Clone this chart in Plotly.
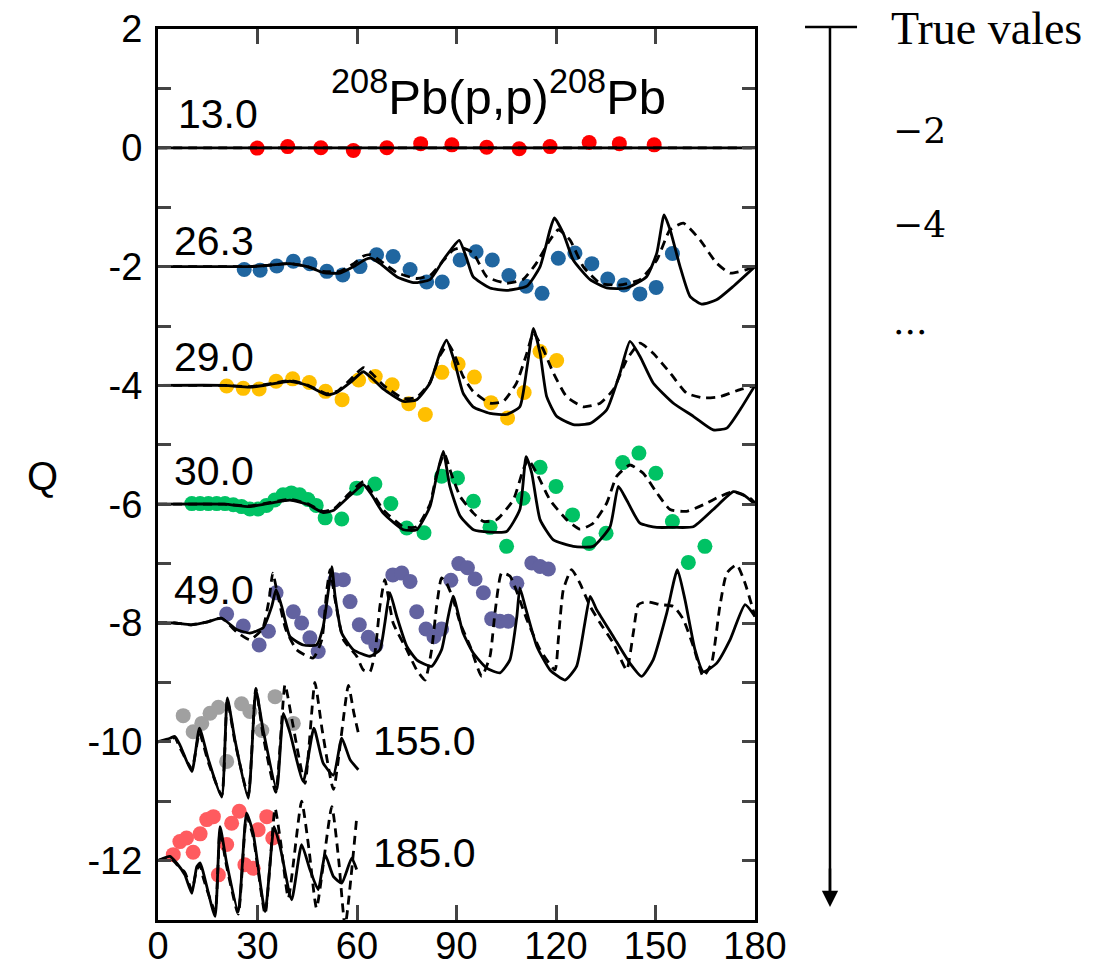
import plotly.graph_objects as go

# ---------------- data ----------------
# 13.0 MeV
dots13_x = [29.9, 39.1, 49.1, 58.9, 69.0, 79.2, 88.6, 99.1, 108.9, 118.2, 130.0, 139.1, 149.6]
dots13_y = [-0.005, 0.02, 0.0, -0.045, 0.0, 0.07, 0.05, 0.01, -0.015, 0.02, 0.09, 0.07, 0.05]
sol13_x = [0, 30, 60, 90, 120, 150, 180]
sol13_y = [0, 0, 0, 0, 0, 0, 0]

# 26.3 MeV
dots26_x = [26.0, 30.8, 35.8, 40.8, 45.8, 50.9, 55.7, 60.9, 65.9, 70.9, 76.0, 81.0, 85.7, 91.1,
            95.9, 100.8, 105.8, 111.0, 115.8, 120.7, 125.7, 130.8, 135.6, 140.5, 145.3, 150.2, 155.1]
dots26_y = [-2.05, -2.06, -1.99, -1.91, -1.95, -2.08, -2.14, -2.0, -1.80, -1.83, -2.05, -2.26, -2.26, -1.89,
            -1.75, -1.89, -2.15, -2.33, -2.45, -1.86, -1.77, -1.95, -2.21, -2.31, -2.46, -2.35, -1.78]
sol26_x = [0, 20, 27.7, 33, 39.8, 45, 49.8, 54.9, 59, 62.5, 64.4, 67, 72, 77, 82, 86, 88.5, 90.8, 93, 95,
           100.1, 105.1, 111.2, 115.2, 118.2, 119.5, 122.2, 125.2, 130.3, 135.3, 141.3, 147.3, 150.4,
           152.6, 154.4, 157.4, 160.4, 163.9, 168.4, 173.5, 180]
sol26_y = [-2, -2, -2.0, -1.98, -1.95, -2.0, -2.1, -2.11, -2.0, -1.88, -1.86, -1.95, -2.17, -2.27, -2.22,
           -1.89, -1.7, -1.56, -1.85, -2.17, -2.36, -2.40, -2.33, -2.0, -1.38, -1.18, -1.44, -1.89, -2.22,
           -2.36, -2.36, -2.17, -1.77, -1.13, -1.38, -2.0, -2.5, -2.63, -2.56, -2.33, -2.0]
das26_x = [0, 20, 27.7, 33, 39.8, 45, 49.8, 54.9, 59, 62, 64, 67, 72, 78, 82, 86, 89, 91.5, 95, 99.1,
           105.1, 110, 114, 118.2, 120.7, 124.2, 128.2, 133.3, 139.3, 145.3, 150.4, 154.4, 158.4, 163.4,
           168.4, 172.5, 177.5, 180]
das26_y = [-2, -2, -2.0, -1.98, -1.95, -2.0, -2.08, -2.08, -1.95, -1.82, -1.8, -1.9, -2.1, -2.2, -2.15,
           -1.9, -1.72, -1.68, -1.77, -2.17, -2.28, -2.22, -1.95, -1.55, -1.38, -1.55, -2.0, -2.28, -2.31,
           -2.22, -1.89, -1.38, -1.27, -1.55, -1.94, -2.11, -2.05, -2.0]

# 29.0 MeV
dots29_x = [20.7, 25.7, 30.5, 35.6, 40.6, 45.6, 50.5, 55.5, 60.5, 65.5, 70.6, 75.6, 80.6, 85.6, 90.5,
            95.4, 100.4, 105.4, 110.4, 115.2, 120.2]
dots29_y = [-4.01, -4.05, -4.06, -3.93, -3.89, -3.95, -4.10, -4.24, -3.91, -3.85, -3.99, -4.31, -4.49,
            -3.78, -3.64, -3.86, -4.29, -4.55, -4.12, -3.43, -3.58]
sol29_x = [0, 20, 27.7, 34, 39.8, 45, 50.9, 53.9, 58, 61.9, 64.5, 67.9, 74, 78, 82, 85, 87, 89.5, 92, 95,
           100.1, 105.1, 109.1, 111.3, 113.2, 115.2, 117.2, 120.2, 125.2, 130.3, 135.3, 139.3, 142.3,
           145.3, 149.3, 155.4, 161.4, 167.4, 171.5, 175.5, 180]
sol29_y = [-4, -4, -4.03, -3.98, -3.93, -4.0, -4.16, -4.12, -3.95, -3.77, -3.88, -4.06, -4.27, -4.24,
           -3.96, -3.46, -3.24, -3.62, -4.13, -4.36, -4.47, -4.49, -4.36, -3.68, -3.04, -3.46, -4.19,
           -4.52, -4.66, -4.64, -4.41, -3.79, -3.26, -3.51, -3.96, -4.30, -4.52, -4.75, -4.72, -4.41, -4.0]
das29_x = [0, 20, 27.7, 34, 39.8, 45, 50.9, 54, 58, 62, 64.5, 68, 74, 78, 82, 85, 87.5, 89.5, 92, 95,
           100.1, 104.1, 108.1, 111.2, 113.2, 116.2, 119.2, 123.2, 128.2, 133.3, 137.3, 141.3, 145.3,
           149.3, 154.4, 159.4, 164.4, 169.4, 175.5, 180]
das29_y = [-4, -4, -4.02, -3.97, -3.92, -3.99, -4.14, -4.1, -3.9, -3.7, -3.8, -4.0, -4.22, -4.2, -3.95,
           -3.5, -3.3, -3.5, -3.85, -4.1, -4.3, -4.27, -3.96, -3.46, -3.12, -3.40, -3.79, -4.19, -4.36,
           -4.30, -4.07, -3.57, -3.29, -3.46, -3.79, -4.13, -4.21, -4.19, -4.07, -4.0]

# 30.0 MeV
dots30_x = [10.2, 12.7, 15.2, 17.7, 20.2, 22.7, 25.2, 27.7, 30.2, 32.7, 35.2, 37.7, 40.2, 42.7, 45.2,
            47.7, 50.4, 55.4, 59.9, 65.4, 70.2, 75.0, 80.2, 85.5, 90.3, 95.1, 100.1, 105.1, 110.1,
            115.2, 120.0, 125.0, 130.0, 135.1, 140.1, 145.0, 150.1, 155.1, 159.9, 164.9]
dots30_y = [-5.99, -5.99, -5.99, -5.99, -5.99, -6.01, -6.04, -6.08, -6.08, -6.02, -5.93, -5.84, -5.81,
            -5.84, -5.92, -6.02, -6.23, -6.25, -5.73, -5.66, -5.99, -6.40, -6.48, -5.53, -5.56, -5.95,
            -6.39, -6.71, -5.90, -5.38, -5.70, -6.18, -6.66, -6.49, -5.30, -5.14, -5.48, -6.29, -6.98, -6.71]
sol30_x = [0, 20, 27.7, 34, 39.8, 45, 49.8, 53, 58, 61.9, 64.5, 67.9, 74, 78, 82, 84, 86, 88, 91.1, 95.1,
           100.1, 105.1, 109.1, 111, 112.7, 115.2, 119.2, 125.2, 131.2, 136.3, 138.8, 141.3, 145.3,
           150.4, 155.4, 161.4, 167.4, 173.5, 176.5, 180]
sol30_y = [-6, -6, -6.04, -5.98, -5.93, -6.0, -6.14, -6.1, -5.85, -5.67, -5.85, -6.15, -6.43, -6.43,
           -6.04, -5.53, -5.11, -5.70, -6.2, -6.43, -6.47, -6.46, -6.09, -5.2, -5.48, -6.26, -6.60,
           -6.71, -6.71, -6.38, -5.70, -5.93, -6.32, -6.39, -6.39, -6.38, -6.09, -5.79, -5.84, -6.0]
das30_x = [0, 20, 27.7, 34, 39.8, 45, 49.8, 53, 58, 62, 64.5, 68, 74, 78, 82, 84, 86.3, 88.5, 91.1, 95.1,
           98.1, 102.1, 107.1, 110.1, 111.6, 114.2, 118.2, 123.2, 127.2, 131.2, 135.3, 138.3, 142.3,
           146.3, 150.4, 154.4, 159.4, 164.4, 169.4, 173.5, 178.5, 180]
das30_y = [-6, -6, -6.03, -5.97, -5.92, -5.99, -6.12, -6.08, -5.8, -5.62, -5.8, -6.1, -6.38, -6.38, -6.0,
           -5.5, -5.15, -5.5, -5.87, -6.15, -6.29, -6.26, -5.93, -5.42, -5.25, -5.48, -5.93, -6.26,
           -6.42, -6.32, -5.98, -5.53, -5.34, -5.48, -5.81, -6.09, -6.12, -6.01, -5.87, -5.79, -5.90, -5.98]

# 49.0 MeV
dots49_x = [20.7, 25.7, 30.5, 33.3, 35.6, 40.8, 43.3, 45.8, 48.3, 50.4, 53.4, 55.9, 57.9, 60.7, 63.4,
            65.7, 70.8, 73.5, 76.0, 78.0, 80.8, 83.2, 85.5, 88.3, 90.7, 93.3, 95.6, 98.1, 100.6, 103.1,
            105.6, 108.2, 112.7, 115.2, 117.7]
dots49_y = [-7.85, -8.05, -8.37, -8.14, -7.49, -7.81, -8.0, -8.25, -8.48, -7.81, -7.27, -7.27, -7.64,
            -8.03, -8.24, -8.38, -7.19, -7.16, -7.30, -7.81, -8.10, -8.23, -8.10, -7.28, -7.0, -7.07,
            -7.26, -7.49, -7.93, -7.97, -7.97, -7.33, -6.99, -7.05, -7.09]
sol49_x = [0, 5, 10, 15, 19.2, 23.7, 27.7, 31.7, 34.3, 35.6, 37.3, 39.8, 43.8, 47.8, 49.8, 51.4, 52.4,
           53.4, 55.4, 58.9, 63.9, 66.9, 68.4, 69.9, 72, 75, 78, 82.5, 85.5, 87.5, 89, 92, 95.1, 99.1,
           103.1, 106.1, 108.2, 109.1, 110.7, 114.2, 118.2, 122.7, 126.2, 128.7, 130.3, 132.3, 137.3,
           142.3, 145.8, 149.3, 153.4, 156.6, 158.9, 161.9, 164.4, 168.4, 172.5, 177, 180]
sol49_y = [-8, -8.0, -8.03, -7.98, -7.92, -8.11, -8.17, -8.08, -7.72, -7.44, -7.72, -8.23, -8.37, -8.37,
           -8.06, -7.44, -7.05, -7.55, -8.17, -8.45, -8.56, -8.45, -8.0, -7.49, -7.89, -8.39, -8.62,
           -8.73, -8.45, -7.89, -7.55, -8.17, -8.51, -8.76, -8.84, -8.62, -7.89, -7.41, -7.72, -8.39,
           -8.79, -8.96, -8.73, -8.0, -7.55, -7.78, -8.23, -8.68, -8.90, -8.62, -7.83, -7.10, -7.61,
           -8.45, -8.82, -8.68, -8.28, -7.69, -7.89]
das49_x = [0, 5, 10, 15, 19.2, 23.7, 27.7, 31.5, 33.5, 34.6, 36, 38.5, 41.8, 46.8, 49.4, 50.9, 51.9,
           53.4, 55.9, 59.9, 61.9, 63.9, 65.4, 66.9, 68.4, 70.9, 75, 78, 80.5, 82.5, 84, 85.5, 87, 89,
           91.1, 94.1, 97.6, 100.1, 101.6, 103.6, 106.1, 111.2, 115.2, 119.7, 120.7, 122.2, 124.7,
           127.2, 130.3, 133.3, 137.3, 141.3, 143.3, 144.8, 147.3, 151.4, 155.4, 158.4, 161.4, 164.4,
           166.9, 169.4, 171.5, 174.5, 177, 180]
das49_y = [-8, -8.0, -8.03, -7.98, -7.92, -8.15, -8.28, -8.1, -7.6, -7.16, -7.5, -8.1, -8.45, -8.59,
           -8.28, -7.44, -7.10, -7.61, -8.28, -8.56, -8.79, -8.82, -8.51, -7.72, -7.27, -8.0, -8.45,
           -8.79, -8.96, -8.45, -7.72, -7.24, -7.33, -7.6, -8.0, -8.39, -8.90, -8.56, -7.83, -7.16,
           -7.21, -7.94, -8.45, -8.79, -8.28, -7.44, -7.10, -7.33, -7.72, -8.0, -8.34, -8.79, -8.17,
           -7.69, -7.64, -7.69, -7.72, -7.94, -8.39, -8.90, -8.68, -7.72, -7.16, -7.02, -7.33, -7.89]

# 155.0 MeV
dots155_x = [7.6, 10.6, 13.2, 15.7, 18.2, 20.7, 25.2, 27.7, 31.3, 35.3, 40.8]
dots155_y = [-9.56, -9.83, -9.69, -9.52, -9.42, -10.33, -9.36, -9.49, -9.81, -9.24, -9.69]
sol155_x = [0, 3.6, 5.1, 6.6, 10.2, 12.5, 15.2, 19.2, 20.9, 23.2, 27.2, 29.5, 31.7, 35.8, 37.8, 39.8,
            43.8, 47, 49.8, 52.9, 55.4, 57.9, 60.4]
sol155_y = [-10, -9.94, -9.91, -10.05, -10.5, -9.77, -10.3, -10.93, -9.26, -9.97, -10.95, -9.12, -9.80,
            -10.81, -9.52, -9.85, -10.67, -9.77, -10.36, -10.56, -9.94, -10.30, -10.47]
das155_x = [0, 3.6, 5.1, 6.6, 10.2, 12.5, 15.2, 19.2, 20.9, 23.2, 27.2, 29.5, 31.7, 35.5, 38.3, 40.3,
            44.3, 47.3, 49.5, 52.9, 57.4, 59, 60.4]
das155_y = [-10, -9.96, -9.93, -10.1, -10.45, -9.85, -10.35, -10.9, -9.3, -10.0, -10.9, -9.1, -9.9,
            -10.85, -9.04, -9.6, -10.7, -9.0, -9.8, -10.8, -9.05, -9.5, -9.85]

# 185.0 MeV
dots185_x = [4.6, 6.6, 8.6, 10.6, 12.7, 14.7, 16.7, 18.2, 20.7, 22.2, 24.5, 26.2, 28.7, 30.2, 32.8, 34.6]
dots185_y = [-11.90, -11.68, -11.62, -11.86, -11.55, -11.31, -11.26, -12.24, -11.73, -11.37, -11.17,
             -12.07, -12.13, -11.48, -11.26, -11.62]
sol185_x = [0, 3.6, 5.6, 8.1, 10.2, 11.7, 12.7, 13.7, 17.2, 18.7, 20.7, 24.2, 26.7, 28.7, 32.3, 35,
            36.8, 40.3, 43.3, 45.8, 48.3, 50.4, 52.9, 55.4, 58.4, 59.9]
sol185_y = [-12, -11.93, -12.04, -12.24, -12.55, -12.1, -12.04, -12.21, -12.94, -11.43, -12.04, -12.86,
            -11.20, -11.54, -12.86, -11.43, -11.76, -12.66, -11.73, -12.15, -12.49, -11.90, -12.27,
            -12.38, -11.96, -12.15]
das185_x = [0, 3.6, 5.6, 8.1, 10.2, 11.7, 12.7, 13.7, 17.2, 18.7, 20.7, 24.2, 26.7, 28.7, 32.3, 35.3,
            37, 39.3, 43.3, 45.5, 47.8, 52.4, 54.5, 56.4, 59.9]
das185_y = [-12, -11.95, -12.06, -12.2, -12.5, -12.15, -12.08, -12.3, -12.85, -11.5, -12.1, -12.9,
            -11.25, -11.6, -12.9, -11.12, -11.7, -12.63, -11.0, -11.8, -12.80, -11.09, -12.0, -13.1, -11.28]

energy_labels = ["13.0", "26.3", "29.0", "30.0", "49.0", "155.0", "185.0"]
label_x = [5.3, 4.3, 4.3, 4.3, 4.3, 64.3, 64.3]
label_y = [0.57, -1.57, -3.52, -5.44, -7.44, -9.98, -11.87]

x_ticks = [0, 30, 60, 90, 120, 150, 180]
y_ticks = list(range(-13, 3))
y_ticktext = [str(v) if v % 2 == 0 else "" for v in y_ticks]

side_texts = ["\u22122", "\u22124", "..."]

# ---------------- figure ----------------
series = [
    (dots13_x, dots13_y, "#FF0000", sol13_x, sol13_y, sol13_x, sol13_y),
    (dots26_x, dots26_y, "#2066A0", sol26_x, sol26_y, das26_x, das26_y),
    (dots29_x, dots29_y, "#FFBF00", sol29_x, sol29_y, das29_x, das29_y),
    (dots30_x, dots30_y, "#00C264", sol30_x, sol30_y, das30_x, das30_y),
    (dots49_x, dots49_y, "#6262A0", sol49_x, sol49_y, das49_x, das49_y),
    (dots155_x, dots155_y, "#A0A0A0", sol155_x, sol155_y, das155_x, das155_y),
    (dots185_x, dots185_y, "#FF5B5F", sol185_x, sol185_y, das185_x, das185_y),
]

fig = go.Figure()
for dx, dy, col, sx, sy, qx, qy in series:
    fig.add_trace(go.Scatter(x=dx, y=dy, mode="markers",
                             marker=dict(size=15, color=col, line=dict(width=0))))
for dx, dy, col, sx, sy, qx, qy in series:
    fig.add_trace(go.Scatter(x=qx, y=qy, mode="lines",
                             line=dict(color="black", width=2.8, dash="9px,6px",
                                       shape="spline", smoothing=0.5)))
    fig.add_trace(go.Scatter(x=sx, y=sy, mode="lines",
                             line=dict(color="black", width=2.8, shape="spline", smoothing=0.5)))

FONT = "Liberation Sans, Arial"
annotations = []
for t, lx, ly in zip(energy_labels, label_x, label_y):
    annotations.append(dict(x=lx, y=ly, xref="x", yref="y", text=t, showarrow=False,
                            xanchor="left", yanchor="middle",
                            font=dict(size=41, color="black", family=FONT)))
annotations.append(dict(x=51.5, y=0.92, xref="x", yref="y",
                        text="<sup>208</sup>Pb(p,p)<sup>208</sup>Pb", showarrow=False,
                        xanchor="left", yanchor="middle",
                        font=dict(size=49, color="black", family=FONT)))
annotations.append(dict(x=-0.194, y=0.498, xref="paper", yref="paper", text="Q",
                        showarrow=False, xanchor="center", yanchor="middle",
                        font=dict(size=40, color="black", family=FONT)))
annotations.append(dict(x=1.224, y=1.0011, xref="paper", yref="paper", text="True vales",
                        showarrow=False, xanchor="left", yanchor="middle",
                        font=dict(size=46, color="black", family="Liberation Serif, Times New Roman")))
for t, py in zip(side_texts, [0.8866, 0.781, 0.672]):
    annotations.append(dict(x=1.228, y=py, xref="paper", yref="paper", text=t,
                            showarrow=False, xanchor="left", yanchor="middle",
                            font=dict(size=36, color="black", family="DejaVu Serif")))
annotations.append(dict(x=1.1256, y=0.0146, xref="paper", yref="paper", text="",
                        showarrow=True, arrowhead=2, arrowsize=1.3, arrowwidth=2.5,
                        arrowcolor="black", ax=0, ay=-40, axref="pixel", ayref="pixel"))

fig.update_layout(
    width=1108, height=977,
    margin=dict(l=158, r=353, t=29, b=57),
    paper_bgcolor="white", plot_bgcolor="white",
    showlegend=False,
    font=dict(family=FONT, color="black"),
    annotations=annotations,
    shapes=[
        dict(type="line", xref="paper", yref="paper", x0=1.0838, x1=1.1709,
             y0=1.0022, y1=1.0022, line=dict(color="black", width=2.5)),
        dict(type="line", xref="paper", yref="paper", x0=1.1256, x1=1.1256,
             y0=1.0022, y1=0.03, line=dict(color="black", width=2.5)),
    ],
)
fig.update_xaxes(range=[0, 180], tickvals=x_ticks, ticks="inside", ticklen=15, tickwidth=3,
                 showline=True, linewidth=3, linecolor="black", mirror="ticks",
                 showgrid=False, zeroline=False, tickfont=dict(size=38), ticklabelstandoff=-10,
                 automargin=False)
fig.update_yaxes(range=[-13, 2], tickvals=y_ticks, ticktext=y_ticktext, ticks="inside",
                 ticklen=13, tickwidth=3, showline=True, linewidth=3, linecolor="black",
                 mirror="ticks", showgrid=False, zeroline=False, tickfont=dict(size=38),
                 ticklabelstandoff=5, automargin=False)

fig.write_html("out.html")
